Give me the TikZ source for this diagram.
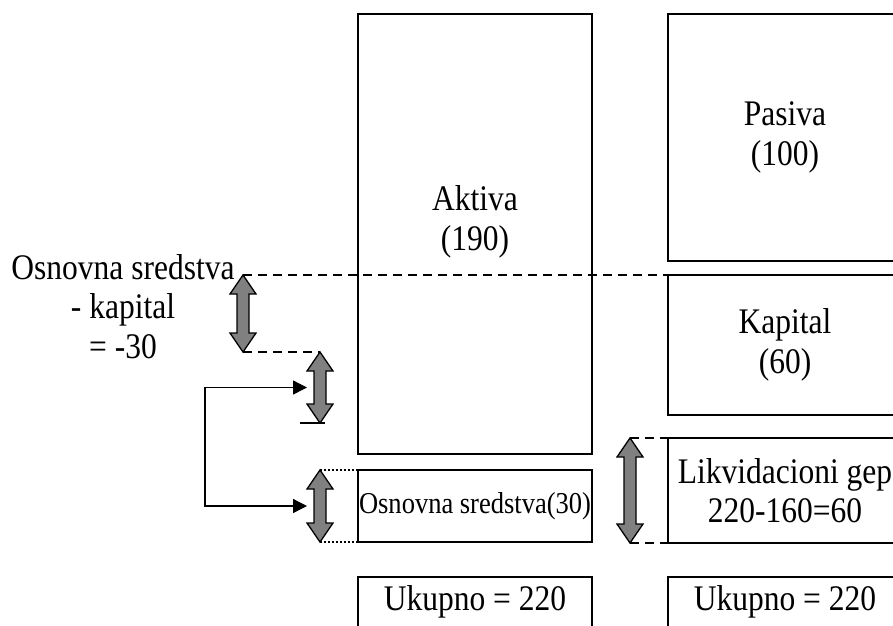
\documentclass[tikz,border=0pt]{standalone}
\usepackage{fontspec}
\setmainfont{Liberation Serif}[FakeStretch=0.875]
\usetikzlibrary{positioning,arrows.meta}

\newcommand{\bigtxt}{\fontsize{36}{39.5}\selectfont}
\newcommand{\smalltxt}{\fontsize{30.3}{32}\selectfont}

% fat grey double arrow: name, x, top y, bottom y
\newcommand{\fatarrow}[4]{%
  \draw[fatarr] (#2,#3) -- ++(13,19) -- ++(-7,0) -- ({#2+6},{#4-19}) -- ++(7,0)
    -- (#2,#4) -- ++(-13,-19) -- ++(7,0) -- ({#2-6},{#3+19}) -- ++(-7,0) -- cycle;
  \coordinate (#1-t) at (#2,#3);
  \coordinate (#1-b) at (#2,#4);
  \coordinate (#1-w) at ({#2-13},{(#3+#4)/2});
}

\begin{document}
\begin{tikzpicture}[
        x=1pt, y=-1pt,
        box/.style={draw, line width=1.4pt, inner sep=0pt, outer sep=0pt, minimum width=234pt, align=center, font=\bigtxt},
        txt/.style={align=center, inner sep=0pt, font=\bigtxt},
        fatarr/.style={draw, fill=gray, line width=1.3pt, line join=miter},
        dashln/.style={line width=1.2pt, dash pattern=on 9pt off 6pt},
        dotln/.style={line width=1.2pt, dash pattern=on 2pt off 2pt},
        link/.style={line width=1.4pt, {Triangle[length=14pt,width=14pt]}-{Triangle[length=14pt,width=14pt]}}
    ]
        \useasboundingbox (0,0) rectangle (893,625);

        % Aktiva side
        \node[box, minimum height=440pt] (aktiva) at (475,234) {};
        \node[txt] (aktivatxt) at ([yshift=12pt]aktiva.center) {Aktiva\\(190)};
        \node[box, minimum height=72pt, font=\smalltxt, below=16pt of aktiva] (osn) {Osnovna sredstva(30)};
        \node[box, minimum height=68pt, below=35pt of osn] (ukl) {};
        \node[txt, anchor=base] (ukltxt) at ([yshift=1pt]ukl.center) {Ukupno = 220};

        % Pasiva side
        \node[box, minimum height=247pt] (pasiva) at (785,137.5) {Pasiva\\(100)};
        \node[box, minimum height=140pt, below=14pt of pasiva] (kapital) {Kapital\\(60)};
        \node[box, minimum height=105pt, below=23pt of kapital] (likv) {Likvidacioni gep\\220-160=60};
        \node[box, minimum height=68pt, right=76pt of ukl] (ukr) {};
        \node[txt, anchor=base] (ukrtxt) at ([yshift=1pt]ukr.center) {Ukupno = 220};

        % Difference
        \node[txt] (razlika) at (123,306.5) {Osnovna sredstva\\- kapital\\= -30};

        % Fat arrows
        \fatarrow{razA}{243}{275}{352}
        \fatarrow{razB}{320}{352}{423}
        \fatarrow{osnA}{320}{470}{542}
        \fatarrow{gep}{630}{438}{543}

        % Guide lines
        \draw[dashln] (razA-t) -- (kapital.north west);
        \draw[dashln] (razA-b) -- (razB-t);
        \draw[line width=1.4pt] ([xshift=-20pt]razB-b) -- ([xshift=5pt]razB-b);
        \draw[dotln] (osnA-t) -- (osn.north west);
        \draw[dotln] (osnA-b) -- (osn.south west);
        \draw[dashln] (gep-t) -- (likv.north west);
        \draw[dashln] (gep-b) -- (likv.south west);

        % Link
        \draw[link] (razB-w) -- ++(-102,0) |- (osnA-w);
    \end{tikzpicture}
\end{document}
